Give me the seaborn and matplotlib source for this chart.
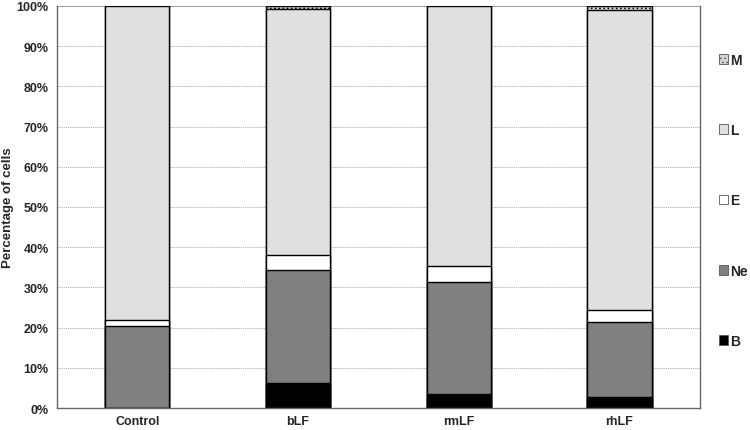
import pandas as pd
import matplotlib.pyplot as plt
import seaborn as sns
from matplotlib.patches import Patch

sns.set_style("white")
plt.rcParams["font.family"] = ["Liberation Sans", "DejaVu Sans"]
plt.rcParams["font.weight"] = "bold"
plt.rcParams["hatch.linewidth"] = 0.6

groups = ["Control", "bLF", "rmLF", "rhLF"]
cell_types = ["B", "Ne", "E", "L", "M"]
b_pct = [0.0, 6.2, 3.5, 2.7]
ne_pct = [20.4, 28.1, 27.8, 18.7]
e_pct = [1.6, 3.8, 4.0, 3.0]
l_pct = [78.0, 61.2, 64.7, 74.6]
m_pct = [0.0, 0.7, 0.0, 1.0]

colors = {"B": "#000000", "Ne": "#808080", "E": "#ffffff", "L": "#e0e0e0", "M": "#d4d4d4"}
hatches = {"M": "...."}


def main():
    df = pd.DataFrame({"group": groups, "B": b_pct, "Ne": ne_pct, "E": e_pct,
                       "L": l_pct, "M": m_pct})
    cum = df[cell_types].cumsum(axis=1)
    cum["group"] = df["group"]

    fig = plt.figure(figsize=(7.5, 4.31), dpi=100)
    ax = fig.add_axes([0.076, 0.051, 0.857, 0.933])

    for y in range(10, 100, 10):
        ax.axhline(y, color="#a8a8a8", lw=0.6, ls=(0, (1.5, 1)), zorder=0)
    ax.axhline(100, color="#8a8a8a", lw=1.2, zorder=0)

    # draw cumulative stacks from the top layer down
    for ct in reversed(cell_types):
        sns.barplot(data=cum, x="group", y=ct, color=colors[ct], width=0.4,
                    edgecolor="black", linewidth=1.0, saturation=1, ax=ax,
                    hatch=hatches.get(ct))

    ax.set_ylim(0, 100)
    ax.set_xlim(-0.5, 3.5)
    ax.set_yticks(range(0, 101, 10))
    ax.set_yticklabels([f"{v}%" for v in range(0, 101, 10)], fontsize=9,
                       fontweight="bold")
    ax.set_xticks([0, 1, 2, 3])
    ax.set_xticklabels(groups, fontsize=9, fontweight="bold")
    ax.set_xticks([-0.5, 0.5, 1.5, 2.5, 3.5], minor=True)
    ax.tick_params(axis="x", which="major", length=0, pad=5)
    ax.tick_params(axis="x", which="minor", length=4, color="#555555", direction="in")
    ax.tick_params(axis="y", length=3, color="#555555", pad=3)
    ax.set_xlabel("")
    ax.set_ylabel("")
    fig.text(0.011, 0.517, "Percentage of cells", rotation=90, ha="center",
             va="center", fontsize=9.5, fontweight="bold")
    for side in ["left", "bottom", "right"]:
        ax.spines[side].set_color("#666666")
        ax.spines[side].set_linewidth(1.0)
    ax.spines["top"].set_visible(False)

    handles = [Patch(facecolor=colors[ct], edgecolor="#555555", linewidth=0.6,
                     hatch=hatches.get(ct), label=ct) for ct in reversed(cell_types)]
    fig.legend(handles=handles, loc="center left", bbox_to_anchor=(0.958, 0.533),
               frameon=False, handlelength=0.7, handleheight=0.7,
               handletextpad=0.15, labelspacing=4.05, borderpad=0, borderaxespad=0,
               prop={"weight": "bold", "size": 10})

    fig.savefig("out.png", dpi=100)
    plt.close(fig)


if __name__ == "__main__":
    main()
